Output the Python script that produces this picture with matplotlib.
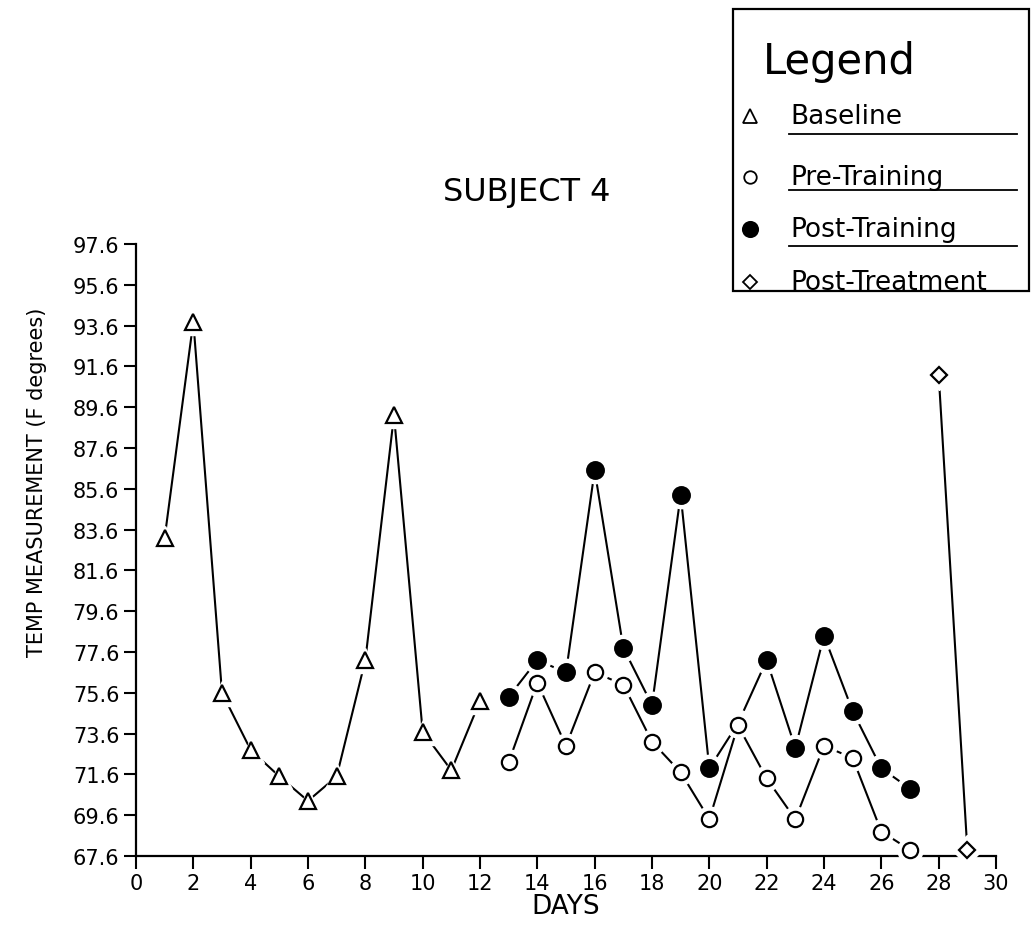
import matplotlib
matplotlib.use("Agg")
import matplotlib.pyplot as plt
from matplotlib.lines import Line2D
from matplotlib.patches import Rectangle

plt.rcParams['font.family'] = ['DejaVu Sans']

# данные
baseline_days = [1, 2, 3, 4, 5, 6, 7, 8, 9, 10, 11, 12]
baseline_temp = [83.2, 93.8, 75.6, 72.8, 71.5, 70.3, 71.5, 77.2, 89.2, 73.7, 71.8, 75.2]

training_days = [13, 14, 15, 16, 17, 18, 19, 20, 21, 22, 23, 24, 25, 26, 27]
pre_temp = [72.2, 76.1, 73.0, 76.6, 76.0, 73.2, 71.7, 69.4, 74.0, 71.4, 69.4, 73.0, 72.4, 68.8, 67.9]
post_temp = [75.4, 77.2, 76.6, 86.5, 77.8, 75.0, 85.3, 71.9, 74.1, 77.2, 72.9, 78.4, 74.7, 71.9, 70.9]

treat_days = [28, 29]
treat_temp = [91.2, 67.9]

y_ticks = [67.6 + 2 * i for i in range(16)]
x_ticks = list(range(0, 31, 2))

W, H = 1032, 928
fig = plt.figure(figsize=(W / 100, H / 100), dpi=100)
ax = fig.add_axes([136 / W, 1 - 857 / H, (996 - 136) / W, (857 - 245) / H])


# линия + белый ореол + маркер (даёт разрывы у маркеров, как на оригинале)
def series(x, y, marker, ms, face, z):
    ax.plot(x, y, '-', color='black', lw=1.5, zorder=z, clip_on=False)
    ax.plot(x, y, ls='none', marker=marker, ms=ms + 7, mfc='white', mec='white',
            zorder=z + 1, clip_on=False)
    ax.plot(x, y, ls='none', marker=marker, ms=ms, mfc=face, mec='black', mew=1.6,
            zorder=z + 2, clip_on=False)


series(baseline_days, baseline_temp, '^', 11, 'white', 2)
series(training_days, post_temp, 'o', 12, 'black', 5)
series(training_days, pre_temp, 'o', 11, 'white', 8)
series(treat_days, treat_temp, 'D', 8, 'white', 11)

ax.set_xlim(0, 30)
ax.set_ylim(67.6, 97.6)
ax.set_xticks(x_ticks)
ax.set_yticks(y_ticks)
ax.set_yticklabels([f'{v:.1f}' for v in y_ticks])
for s in ['top', 'right']:
    ax.spines[s].set_visible(False)
for s in ['left', 'bottom']:
    ax.spines[s].set_linewidth(1.6)
ax.tick_params(direction='out', length=9, width=1.5, pad=3, labelsize=15)

ax.set_xlabel('DAYS', fontsize=19, labelpad=0)
ax.set_ylabel('TEMP MEASUREMENT (F degrees)', fontsize=15)
ax.yaxis.set_label_coords(-0.103, 0.613)

fig.text(527 / W, 1 - 192 / H, 'SUBJECT 4', fontsize=23, ha='center', va='center')

# легенда вручную: рамка, заголовок, подчёркнутые подписи
fig.patches.append(Rectangle((733 / W, 1 - 292 / H), (1029 - 733) / W, (292 - 10) / H,
                             transform=fig.transFigure, fill=False, lw=1.6, ec='black'))
fig.text(763 / W, 1 - 62 / H, 'Legend', fontsize=30, ha='left', va='center')

entries = [('Baseline', '^', 'white', 10), ('Pre-Training', 'o', 'white', 9),
           ('Post-Training', 'o', 'black', 11), ('Post-Treatment', 'D', 'white', 7)]
rows = [117, 178, 230, 283]
for (label, mk, face, ms), yy in zip(entries, rows):
    fy = 1 - yy / H
    fig.add_artist(Line2D([750 / W], [fy], marker=mk, ms=ms, mfc=face, mec='black',
                          mew=1.3, ls='none', transform=fig.transFigure))
    fig.text(790 / W, fy, label, fontsize=19, ha='left', va='center')
for yy in [135, 191, 247]:
    fig.add_artist(Line2D([789 / W, 1017 / W], [1 - yy / H] * 2, color='black', lw=1.3,
                          transform=fig.transFigure))

fig.savefig('out.png', dpi=100, facecolor='white')
